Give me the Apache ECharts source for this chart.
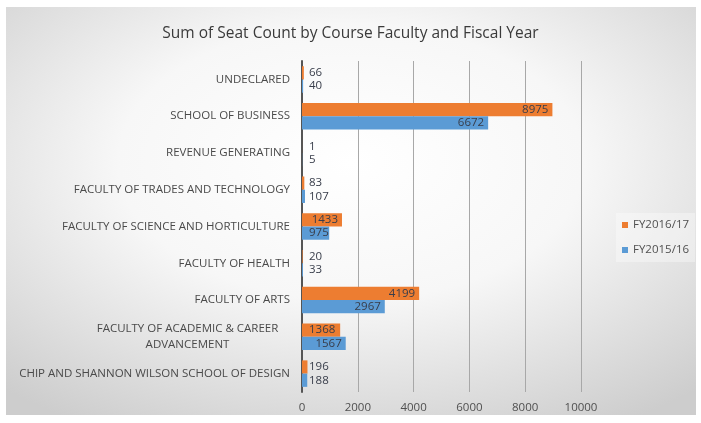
<!DOCTYPE html>
<html>
<head>
<meta charset="utf-8">
<script src="https://cdn.jsdelivr.net/npm/echarts@6/dist/echarts.min.js"></script>
<style>html,body{margin:0;padding:0;background:#fff;}#c{width:701px;height:423px;}</style>
</head>
<body>
<div id="c"></div>
<script>
var categories = [
  'CHIP AND SHANNON WILSON SCHOOL OF DESIGN',
  'FACULTY OF ACADEMIC & CAREER\nADVANCEMENT',
  'FACULTY OF ARTS',
  'FACULTY OF HEALTH',
  'FACULTY OF SCIENCE AND HORTICULTURE',
  'FACULTY OF TRADES AND TECHNOLOGY',
  'REVENUE GENERATING',
  'SCHOOL OF BUSINESS',
  'UNDECLARED'
];
var fy2016 = [196, 1368, 4199, 20, 1433, 83, 1, 8975, 66];
var fy2015 = [188, 1567, 2967, 33, 975, 107, 5, 6672, 40];
var xTicks = [0, 2000, 4000, 6000, 8000, 10000];

var chart = echarts.init(document.getElementById('c'));
function withLabels(arr) {
  return arr.map(function (v) {
    return {
      value: v,
      label: v > 1400 ? { position: 'insideRight', distance: 4 } : { position: 'insideLeft', distance: 7 }
    };
  });
}
var labelFont = { fontFamily: 'Open Sans', fontSize: 11.5, color: '#383d4a' };
chart.setOption({
  backgroundColor: '#ffffff',
  animation: false,
  graphic: [{
    type: 'rect',
    z: -10,
    left: 6, top: 7,
    shape: { x: 0, y: 0, width: 408, height: 408 },
    scaleX: 690 / 408,
    style: {
      fill: {
        type: 'radial', x: 0.5, y: 0.38, r: 0.75,
        colorStops: [{ offset: 0, color: '#ffffff' }, { offset: 0.45, color: '#f7f7f7' }, { offset: 1, color: '#cdcdcd' }]
      },
      lineWidth: 0
    }
  }],
  title: {
    text: 'Sum of Seat Count by Course Faculty and Fiscal Year',
    left: 'center', top: 21,
    textStyle: { fontFamily: 'Open Sans', fontSize: 15.5, fontWeight: 'normal', color: '#3a3a3a' }
  },
  legend: {
    orient: 'vertical', left: 616, top: 213,
    data: ['FY2016/17', 'FY2015/16'],
    itemWidth: 6, itemHeight: 6, itemGap: 13,
    icon: 'rect',
    textStyle: { fontFamily: 'Open Sans', fontSize: 11.5, color: '#505050' },
    backgroundColor: 'rgba(255,255,255,0.35)', padding: [6, 6, 6, 6]
  },
  grid: { left: 302, right: 120, top: 61, bottom: 31, containLabel: false },
  xAxis: {
    type: 'value', min: 0, max: 10000, interval: 2000,
    axisLine: { show: false }, axisTick: { show: false },
    axisLabel: { fontFamily: 'Open Sans', fontSize: 11.5, color: '#505050', margin: 10,
      formatter: function (v) { return xTicks.indexOf(v) >= 0 ? String(v) : ''; } },
    splitLine: { lineStyle: { color: '#a8a8a8', width: 1 } }
  },
  yAxis: {
    type: 'category', data: categories,
    axisLine: { lineStyle: { color: '#555555', width: 2 } },
    axisTick: { show: false },
    axisLabel: {
      margin: 12, fontFamily: 'Open Sans', fontSize: 11.5, color: '#4a4a4a', lineHeight: 16,
      formatter: function (v) {
        if (v.indexOf('\n') >= 0) {
          return v.split('\n').map(function (s) { return '{c|' + s + '}'; }).join('\n');
        }
        return v;
      },
      rich: { c: { width: 205, align: 'center', fontFamily: 'Open Sans', fontSize: 11.5, color: '#4a4a4a', lineHeight: 16 } }
    }
  },
  series: [
    {
      name: 'FY2016/17', type: 'bar', data: withLabels(fy2016),
      itemStyle: { color: '#ED7D31' }, barGap: '0%', barCategoryGap: '28%',
      label: Object.assign({ show: true }, labelFont)
    },
    {
      name: 'FY2015/16', type: 'bar', data: withLabels(fy2015),
      itemStyle: { color: '#5B9BD5' }, barGap: '0%', barCategoryGap: '28%',
      label: Object.assign({ show: true }, labelFont)
    }
  ]
});
</script>
</body>
</html>
